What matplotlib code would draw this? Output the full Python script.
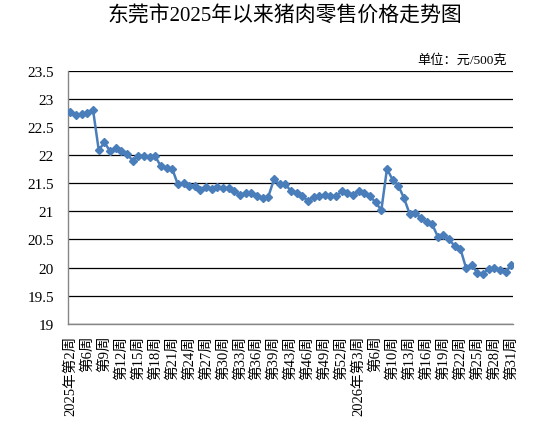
import matplotlib
matplotlib.use('Agg')
import matplotlib.pyplot as plt
import numpy as np

tick_labels = ["2025年第2周", "第6周", "第9周", "第12周", "第15周", "第18周", "第21周",
               "第24周", "第27周", "第30周", "第33周", "第36周", "第39周", "第43周",
               "第46周", "第49周", "第52周", "2026年第3周", "第6周", "第10周", "第13周",
               "第16周", "第19周", "第22周", "第25周", "第28周", "第31周"]

prices = [22.77, 22.71, 22.73, 22.76, 22.80, 22.09, 22.23, 22.07, 22.13, 22.07,
          22.03, 21.90, 21.99, 21.99, 21.96, 21.98, 21.80, 21.78, 21.76, 21.48,
          21.51, 21.45, 21.46, 21.38, 21.44, 21.39, 21.44, 21.42, 21.42, 21.36,
          21.29, 21.33, 21.32, 21.27, 21.24, 21.26, 21.57, 21.48, 21.49, 21.36,
          21.32, 21.27, 21.19, 21.26, 21.27, 21.30, 21.27, 21.27, 21.36, 21.33,
          21.30, 21.36, 21.32, 21.27, 21.16, 21.02, 21.76, 21.56, 21.46, 21.24,
          20.96, 20.98, 20.88, 20.81, 20.77, 20.55, 20.58, 20.50, 20.38, 20.33,
          19.99, 20.05, 19.90, 19.89, 19.98, 19.99, 19.96, 19.92, 20.05]

title = "东莞市2025年以来猪肉零售价格走势图"
unit = "单位：元/500克"

plt.rcParams['font.family'] = ['Liberation Serif', 'Noto Sans CJK SC']

W, H = 556, 435
fig = plt.figure(figsize=(W / 100, H / 100), dpi=100)
ax = fig.add_axes([68 / W, 1 - 324.7 / H, (513 - 68) / W, (324.7 - 72) / H])

x = np.arange(len(prices))
color = '#4A7EBB'
ax.plot(x, prices, color=color, linewidth=1.8, marker='D', markersize=4.2,
        markeredgecolor=color, markerfacecolor=color, zorder=3)

ax.set_xlim(-0.44, 78.3)
ax.set_ylim(19, 23.5)
yt = np.arange(19, 23.51, 0.5)
ax.set_yticks(yt)
ax.set_yticklabels(['%g' % v for v in yt], fontsize=11)
ax.yaxis.grid(True, color='black', linewidth=0.9)
ax.set_axisbelow(True)

ax.set_xticks(x[::3])
ax.set_xticklabels(tick_labels, rotation=90, fontsize=10.5, ha='center', va='top')
ax.tick_params(axis='both', length=0)
ax.tick_params(axis='y', pad=10)
ax.tick_params(axis='x', pad=8)

for s in ['top', 'right']:
    ax.spines[s].set_visible(False)
for s in ['left', 'bottom']:
    ax.spines[s].set_color('#868686')
    ax.spines[s].set_linewidth(1.0)

fig.text(285 / W, 1 - 17 / H, title, ha='center', va='center', fontsize=15)
fig.text(507 / W, 1 - 60 / H, unit, ha='right', va='center', fontsize=9.5)

fig.savefig('out.png', dpi=100)
